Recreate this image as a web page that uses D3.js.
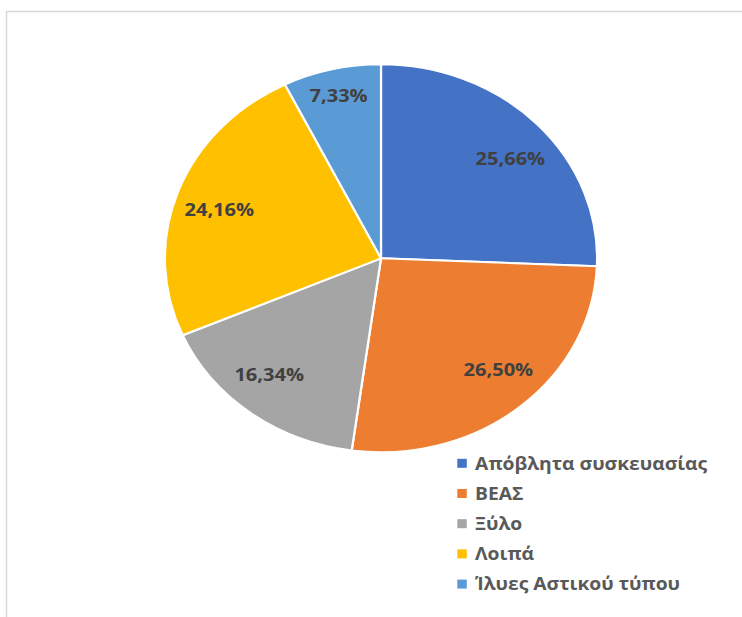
<!DOCTYPE html>
<html>
<head>
<meta charset="utf-8">
<script src="https://cdn.jsdelivr.net/npm/d3@7"></script>
<style>
  html, body { margin: 0; padding: 0; background: #fff; }
  svg { display: block; }
</style>
</head>
<body>
<svg id="chart" width="742" height="617"></svg>
<script>
const categories = ["Απόβλητα συσκευασίας", "ΒΕΑΣ", "Ξύλο", "Λοιπά", "Ίλυες Αστικού τύπου"];
const values = [25.66, 26.50, 16.34, 24.16, 7.33];
const labels = ["25,66%", "26,50%", "16,34%", "24,16%", "7,33%"];
const colors = ["#4472C4", "#ED7D31", "#A5A5A5", "#FFC000", "#5B9BD5"];

const W = 742, H = 617;
const stretch = 1.114;          // reference image is horizontally stretched
const cx = 381 / stretch, cy = 258.3, r = 194;

const svg = d3.select("#chart");

// outer chart border (cropped at right/bottom)
svg.append("rect")
  .attr("x", 6.5).attr("y", 11.5)
  .attr("width", 800).attr("height", 700)
  .attr("fill", "none")
  .attr("stroke", "#d9d9d9")
  .attr("stroke-width", 1.5);

const root = svg.append("g").attr("transform", `scale(${stretch},1)`);

const pie = d3.pie().sort(null).value(d => d.v);
const data = values.map((v, i) => ({ v, i }));
const arcs = pie(data);

const arc = d3.arc().innerRadius(0).outerRadius(r);

const g = root.append("g").attr("transform", `translate(${cx},${cy})`);

g.selectAll("path.slice")
  .data(arcs)
  .enter().append("path")
  .attr("class", "slice")
  .attr("d", arc)
  .attr("fill", d => colors[d.data.i])
  .attr("stroke", "#fff")
  .attr("stroke-width", 2)
  .attr("stroke-linejoin", "round");

// label placement: centroid on a ring, nudged toward the horizontal (Excel best-fit look)
const isSmall = d => d.data.v < 10;
g.selectAll("text.lbl")
  .data(arcs)
  .enter().append("text")
  .attr("class", "lbl")
  .attr("transform", d => {
    let a = (d.startAngle + d.endAngle) / 2;
    if (!isSmall(d)) {
      const target = a < Math.PI ? Math.PI / 2 : 3 * Math.PI / 2;
      a += (target - a) * 0.07;
    }
    const rr = r * (isSmall(d) ? 0.86 : 0.79);
    return `translate(${rr * Math.sin(a)},${-rr * Math.cos(a)})`;
  })
  .attr("text-anchor", "middle")
  .attr("dy", "0.36em")
  .attr("font-family", "'Open Sans', sans-serif")
  .attr("font-weight", 700)
  .attr("font-size", 18)
  .attr("fill", "#404040")
  .text(d => labels[d.data.i]);

// legend
const lx = 457.3 / stretch, ly0 = 463.3, step = 30.2;
const leg = root.append("g");
const items = leg.selectAll("g.item")
  .data(categories)
  .enter().append("g")
  .attr("class", "item")
  .attr("transform", (d, i) => `translate(${lx},${ly0 + i * step})`);

items.append("rect")
  .attr("x", 0).attr("y", -4.5)
  .attr("width", 8.5).attr("height", 9)
  .attr("fill", (d, i) => colors[i]);

items.append("text")
  .attr("x", 16)
  .attr("dy", "0.36em")
  .attr("font-family", "'Open Sans', sans-serif")
  .attr("font-weight", 700)
  .attr("font-size", 17.3)
  .attr("fill", "#595959")
  .text(d => d);
</script>
</body>
</html>
